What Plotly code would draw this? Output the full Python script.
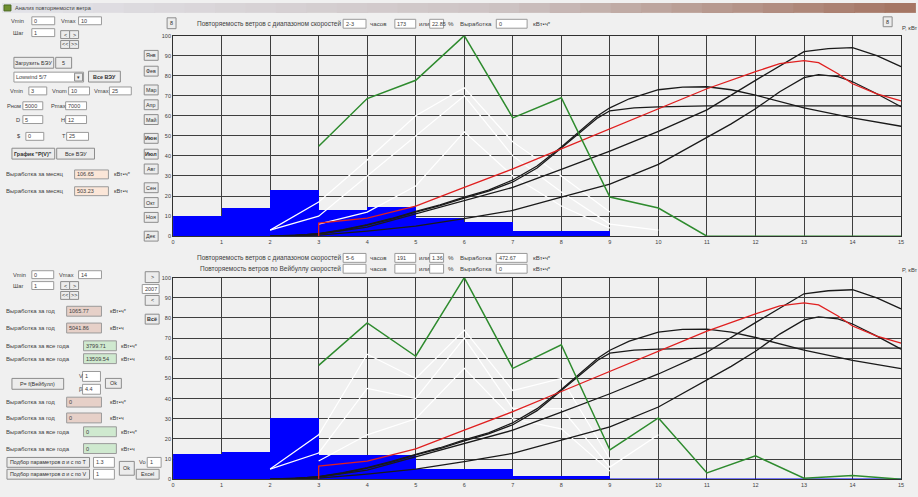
import plotly.graph_objects as go

W, H = 918, 497

# ---------------- data ----------------
speed_ticks = list(range(16))
bar_centers = [0.5, 1.5, 2.5, 3.5, 4.5, 5.5, 6.5, 7.5, 8.5]

# monthly repeatability (top chart)
month_bar_val = [10.3, 14.0, 23.0, 13.0, 14.8, 9.2, 7.2, 3.0, 3.0]
green_x = [3, 4, 5, 6, 7, 8, 9, 10, 11, 12, 13, 14, 15]
month_green_y = [44.8, 68.6, 77.7, 100, 59, 69, 19.5, 14, 0, 0, 0, 0, 0]

# yearly repeatability (bottom chart)
year_bar_val = [12.7, 13.6, 30.4, 12.1, 12.0, 5.0, 5.0, 1.8, 1.8]
year_green_y = [56.5, 77.5, 61, 100, 55, 66.7, 14.5, 30.4, 3.1, 11.6, 0.5, 1.8, 0]
year_zero_x = [9, 15]
year_zero_y = [0, 0]

# power curves P(V), kW scale
k1_x = [2, 2.5, 3, 3.5, 4, 4.5, 5, 5.5, 6, 6.5, 7, 7.5, 8, 8.5, 8.75, 9, 9.5, 10, 11, 12, 13, 14, 15]
k1_y = [0, 0.3, 1.2, 3, 5.5, 8.5, 12, 15.2, 19, 22.5, 27, 34, 44, 54, 59, 62.5, 64, 64.5, 65, 65, 65, 65, 65]
k2_x = [2, 2.5, 3, 3.5, 4, 4.5, 5, 5.5, 6, 6.5, 7, 7.5, 8, 8.5, 8.75, 9, 9.4, 10, 10.5, 11, 11.5, 12, 13, 14, 15]
k2_y = [0, 0.3, 1.3, 3.2, 5.7, 8.8, 12.3, 15.6, 19.5, 23, 28, 35, 44.5, 55, 60, 64, 68.5, 73, 74.3, 74.5, 73, 70.3, 64, 59, 54.8]
k3_x = [2, 3, 4, 5, 6, 7, 8, 9, 10, 11, 12, 13, 13.5, 14, 14.5, 15]
k3_y = [0, 1, 4.5, 11, 17.5, 24.3, 33.3, 42.4, 52.2, 63, 77.7, 92, 93.5, 94, 90, 84.5]
k4_x = [2, 3, 4, 5, 6, 7, 8, 9, 10, 11, 11.5, 12, 12.5, 13, 13.3, 13.7, 14, 14.5, 15]
k4_y = [0, 0.5, 2.5, 5, 8.7, 12.8, 19.4, 26, 35.8, 49, 56, 63.5, 72, 79, 80.5, 79.5, 77, 71, 64.5]
red_x = [3, 3, 4, 5, 6, 7, 8, 9, 10, 11, 12, 12.5, 13, 13.3, 13.7, 14, 14.5, 15]
red_y = [0, 6.5, 9, 15, 24.3, 33.5, 43.5, 53.5, 63.5, 73.5, 82, 86, 87.5, 86.5, 81, 76, 71, 67.5]

# faint white series
top_white = [
    ([2, 3, 4, 5, 6, 7, 8, 9], [3, 17, 38, 60, 74, 47, 30, 12]),
    ([2, 3, 4, 5, 6, 7, 8, 9, 10], [3, 10, 30, 50, 70, 40, 22, 6, 3]),
    ([3, 4, 5, 6, 7, 8, 9], [6, 12, 25, 52, 30, 15, 4]),
]
bottom_white = [
    ([2, 3, 4, 5, 6, 7, 8, 9], [5, 22, 62, 50, 74, 44, 50, 10]),
    ([2, 3, 4, 5, 6, 7, 8, 9, 10], [5, 13, 45, 40, 70, 35, 35, 6, 22]),
    ([3, 4, 5, 6, 7, 8, 9], [9, 22, 30, 55, 30, 25, 4]),
]

months = ["Янв", "Фев", "Мар", "Апр", "Май", "Июн", "Июл", "Авг", "Сен", "Окт", "Ноя", "Дек"]

# ---------------- figure ----------------
fig = go.Figure()

def add_chart(xa, ya, bars, green, whites, zero_line=None):
    fig.add_trace(go.Bar(x=bar_centers, y=bars, width=1, marker=dict(color="#0000ff", line=dict(width=0)),
                         xaxis=xa, yaxis=ya, showlegend=False))
    for wx, wy in whites:
        fig.add_trace(go.Scatter(x=wx, y=wy, mode="lines", line=dict(color="#ffffff", width=1.2),
                                 xaxis=xa, yaxis=ya, showlegend=False))
    if zero_line:
        fig.add_trace(go.Scatter(x=zero_line[0], y=zero_line[1], mode="lines",
                                 line=dict(color="#0000ff", width=1.2), xaxis=xa, yaxis=ya, showlegend=False))
    for cx, cy in [(k1_x, k1_y), (k2_x, k2_y), (k3_x, k3_y), (k4_x, k4_y)]:
        fig.add_trace(go.Scatter(x=cx, y=cy, mode="lines", line=dict(color="#1a1a1a", width=1.3),
                                 xaxis=xa, yaxis=ya, showlegend=False))
    fig.add_trace(go.Scatter(x=red_x, y=red_y, mode="lines", line=dict(color="#e02020", width=1.3),
                             xaxis=xa, yaxis=ya, showlegend=False))
    fig.add_trace(go.Scatter(x=green_x, y=green, mode="lines", line=dict(color="#2e8b2e", width=1.5),
                             xaxis=xa, yaxis=ya, showlegend=False))

add_chart("x", "y", month_bar_val, month_green_y, top_white)
add_chart("x2", "y2", year_bar_val, year_green_y, bottom_white, (year_zero_x, year_zero_y))

grid = "#3e3e3e"
tickfont = dict(size=5.5, color="#404040", family="Liberation Sans")
xd = [172 / W, 904 / W]
ax_common = dict(range=[0, 15], tickvals=speed_ticks, showgrid=True, gridcolor=grid, gridwidth=1.1,
                 showline=True, linecolor="#303030", mirror=True, zeroline=False, tickfont=tickfont, ticks="")
ay_common = dict(range=[0, 100], dtick=10, showgrid=True, gridcolor=grid, gridwidth=1.1,
                 showline=True, linecolor="#303030", mirror=True, zeroline=False, tickfont=tickfont, ticks="")

fig.update_layout(
    width=W, height=H, autosize=False,
    margin=dict(l=0, r=0, t=0, b=0, pad=0),
    paper_bgcolor="#f0f0f0", plot_bgcolor="#f0f0f0",
    showlegend=False, bargap=0,
    xaxis=dict(domain=xd, anchor="y", **ax_common),
    yaxis=dict(domain=[1 - 236 / H, 1 - 33 / H], anchor="x", **ay_common),
    xaxis2=dict(domain=xd, anchor="y2", **ax_common),
    yaxis2=dict(domain=[1 - 482 / H, 1 - 278 / H], anchor="x2", **ay_common),
)

# ---------------- window UI (pixel helpers) ----------------
shapes, annots = [], []
FONT = "Liberation Sans"

def pxx(x):
    return x / W

def pyy(y):
    return 1 - y / H

def rect(x0, y0, x1, y1, fill, line="#a0a0a0", lw=1):
    shapes.append(dict(type="rect", xref="paper", yref="paper", x0=pxx(x0), x1=pxx(x1), y0=pyy(y1), y1=pyy(y0),
                       fillcolor=fill, line=dict(color=line, width=lw)))

def text(x, y, s, anchor="left", size=5.7, color="#404040", bold=False):
    if bold:
        s = "<b>" + s + "</b>"
    annots.append(dict(xref="paper", yref="paper", x=pxx(x), y=pyy(y), text=s, showarrow=False,
                       xanchor=anchor, yanchor="middle", borderpad=0,
                       font=dict(size=size, color=color, family=FONT)))

def tbox(x0, y0, x1, y1, s="", fill="#ffffff"):
    rect(x0, y0, x1, y1, fill, line="#9a9a9a")
    if s:
        text(x0 + 1.5, (y0 + y1) / 2, s, size=5.5)

def button(x0, y0, x1, y1, s, bold=False):
    rect(x0, y0, x1, y1, "#ececec", line="#8c8c8c")
    text((x0 + x1) / 2, (y0 + y1) / 2, s, anchor="center", size=5.4, bold=bold, color="#303030")

# title bar gradient
c0, c1, c2 = (226, 226, 232), (205, 195, 195), (165, 118, 100)
n = 30
for i in range(n):
    t = i / (n - 1)
    if t < 0.55:
        u = t / 0.55
        c = [int(c0[k] + (c1[k] - c0[k]) * u) for k in range(3)]
    else:
        u = (t - 0.55) / 0.45
        c = [int(c1[k] + (c2[k] - c1[k]) * u) for k in range(3)]
    shapes.append(dict(type="rect", xref="paper", yref="paper", x0=i / n, x1=(i + 1) / n + 0.001,
                       y0=pyy(10), y1=1, fillcolor="rgb(%d,%d,%d)" % tuple(c), line=dict(width=0)))
rect(2, 2, 9, 8, "#6f8f2f", line="#4a6a20")
text(12, 5, "Анализ повторяемости ветра", size=5.6, color="#404040")

# ---- top-left panel ----
text(8, 18, "Vmin"); tbox(30, 14, 53, 22, "0")
text(58, 18, "Vmax"); tbox(77, 14, 100, 22, "10")
text(10, 30, "Шаг"); tbox(30, 26, 53, 34, "1")
button(59, 28, 68, 36, "<"); button(68, 28, 77, 36, ">")
button(59, 38, 68, 46, "<<"); button(68, 38, 77, 46, ">>")
button(12, 55, 52, 66, "Загрузить БЭУ"); button(54, 55, 70, 66, "5")
tbox(12, 70, 82, 80, "Lowwind 5/7"); button(73, 71, 81, 79, "▾")
button(87, 69, 119, 80, "Все ВЭУ", bold=True)
text(7, 89, "Vmin"); tbox(27, 85, 45, 93, "3")
text(49, 89, "Vnom"); tbox(67, 85, 88, 93, "10")
text(91, 89, "Vmax"); tbox(108, 85, 130, 93, "25")
text(4, 104, "Pном"); tbox(21, 100, 41, 108, "5000")
text(48, 104, "Pmax"); tbox(64, 100, 85, 108, "7000")
text(13, 118, "D"); tbox(21, 114, 41, 122, "5")
text(58, 118, "H"); tbox(64, 114, 85, 122, "12")
text(14, 135, "$"); tbox(24, 131, 42, 139, "0")
text(59, 135, "T"); tbox(65, 131, 87, 139, "25")
button(10, 147, 53, 158, "График \"P(V)\"", bold=True); button(55, 147, 93, 158, "Все ВЭУ")
text(3, 173, "Выработка за месяц", size=6); tbox(73, 169, 107, 178, "106.65", "#fbe6d8"); text(112, 173, "кВт•ч*")
text(3, 190, "Выработка за месяц", size=6); tbox(73, 186, 107, 195, "503.23", "#fbe6d8"); text(112, 190, "кВт•ч")

# month buttons
month_y = [53, 69, 88, 103, 118, 137, 153, 168, 187, 202, 217, 236]
for m, yy in zip(months, month_y):
    button(143, yy - 5, 157, yy + 5, m, bold=(m in ("Июн", "Июл")))

# ---- top header ----
button(166, 15, 175, 26, "8")
HS = 6.5
def header_row(y, label, b1, b2, b3, b4):
    text(342, y, label, anchor="right", size=HS)
    tbox(343, y - 4.5, 366, y + 4.5, b1)
    text(369, y, "часов", size=6.2); tbox(395, y - 4.5, 416, y + 4.5, b2)
    text(418, y, "или", size=6.2); tbox(430, y - 4.5, 444, y + 4.5, b3)
    text(447, y, "%", size=6.2); text(460, y, "Выработка", size=6.2)
    tbox(497, y - 4.5, 528, y + 4.5, b4); text(533, y, "кВт•ч*", size=6.2)

header_row(21, "Повторяемость ветров с диапазоном скоростей", "2-3", "173", "22.85", "0")
button(886, 14, 895, 24, "8")
text(904, 25, "P, кВт", size=5.8)

# ---- bottom header ----
header_row(258, "Повторяемость ветров с диапазоном скоростей", "5-6", "191", "1.36", "472.67")
header_row(269, "Повторяемость ветров по Вейбуллу скоростей", "", "", "", "0")
text(904, 270, "P, кВт", size=5.8)

# ---- bottom-left panel ----
text(10, 275, "Vmin"); tbox(30, 271, 52, 279, "0")
text(56, 275, "Vmax"); tbox(77, 271, 100, 279, "14")
text(10, 286, "Шаг"); tbox(30, 282, 52, 290, "1")
button(59, 282, 68, 290, "<"); button(68, 282, 77, 290, ">")
button(59, 292, 68, 300, "<<"); button(68, 292, 77, 300, ">>")
button(144, 272, 158, 283, ">")
tbox(141, 285, 158, 294, "2007")
button(144, 296, 158, 306, "<")
button(144, 315, 158, 325, "Всё", bold=True)

pink, green = "#e6d0c8", "#cfe9cf"
text(3, 312, "Выработка за год", size=6); tbox(65, 307, 100, 317, "1065.77", pink); text(108, 312, "кВт•ч*")
text(3, 329, "Выработка за год", size=6); tbox(65, 324, 100, 334, "5041.86", pink); text(108, 329, "кВт•ч")
text(3, 347, "Выработка за все года", size=6); tbox(82, 342, 115, 352, "3799.71", green); text(119, 347, "кВт•ч*")
text(3, 360, "Выработка за все года", size=6); tbox(82, 355, 115, 365, "13509.54", green); text(119, 360, "кВт•ч")
button(10, 380, 62, 391, "P= f(Вейбулл)")
text(76, 378, "V"); tbox(81, 373, 99, 383, "1")
text(76, 391, "β"); tbox(81, 386, 99, 396, "4.4")
button(104, 380, 120, 390, "Ok")
text(3, 404, "Выработка за год", size=6); tbox(65, 399, 100, 409, "0", pink); text(108, 404, "кВт•ч*")
text(3, 420, "Выработка за год", size=6); tbox(65, 415, 100, 425, "0", pink); text(108, 420, "кВт•ч")
text(3, 434, "Выработка за все года", size=6); tbox(82, 429, 115, 439, "0", green); text(119, 434, "кВт•ч*")
text(3, 451, "Выработка за все года", size=6); tbox(82, 446, 115, 456, "0", green); text(119, 451, "кВт•ч")
button(5, 460, 88, 470, "Подбор параметров α и c по T"); tbox(92, 460, 113, 470, "1.3")
button(5, 472, 88, 482, "Подбор параметров α и c по V"); tbox(92, 472, 113, 482, "1")
button(118, 464, 133, 478, "Ok")
text(137, 465, "Vo"); tbox(146, 460, 160, 470, "1")
button(135, 472, 158, 482, "Excel")

fig.update_layout(shapes=shapes, annotations=annots)
fig.write_html("out.html")
